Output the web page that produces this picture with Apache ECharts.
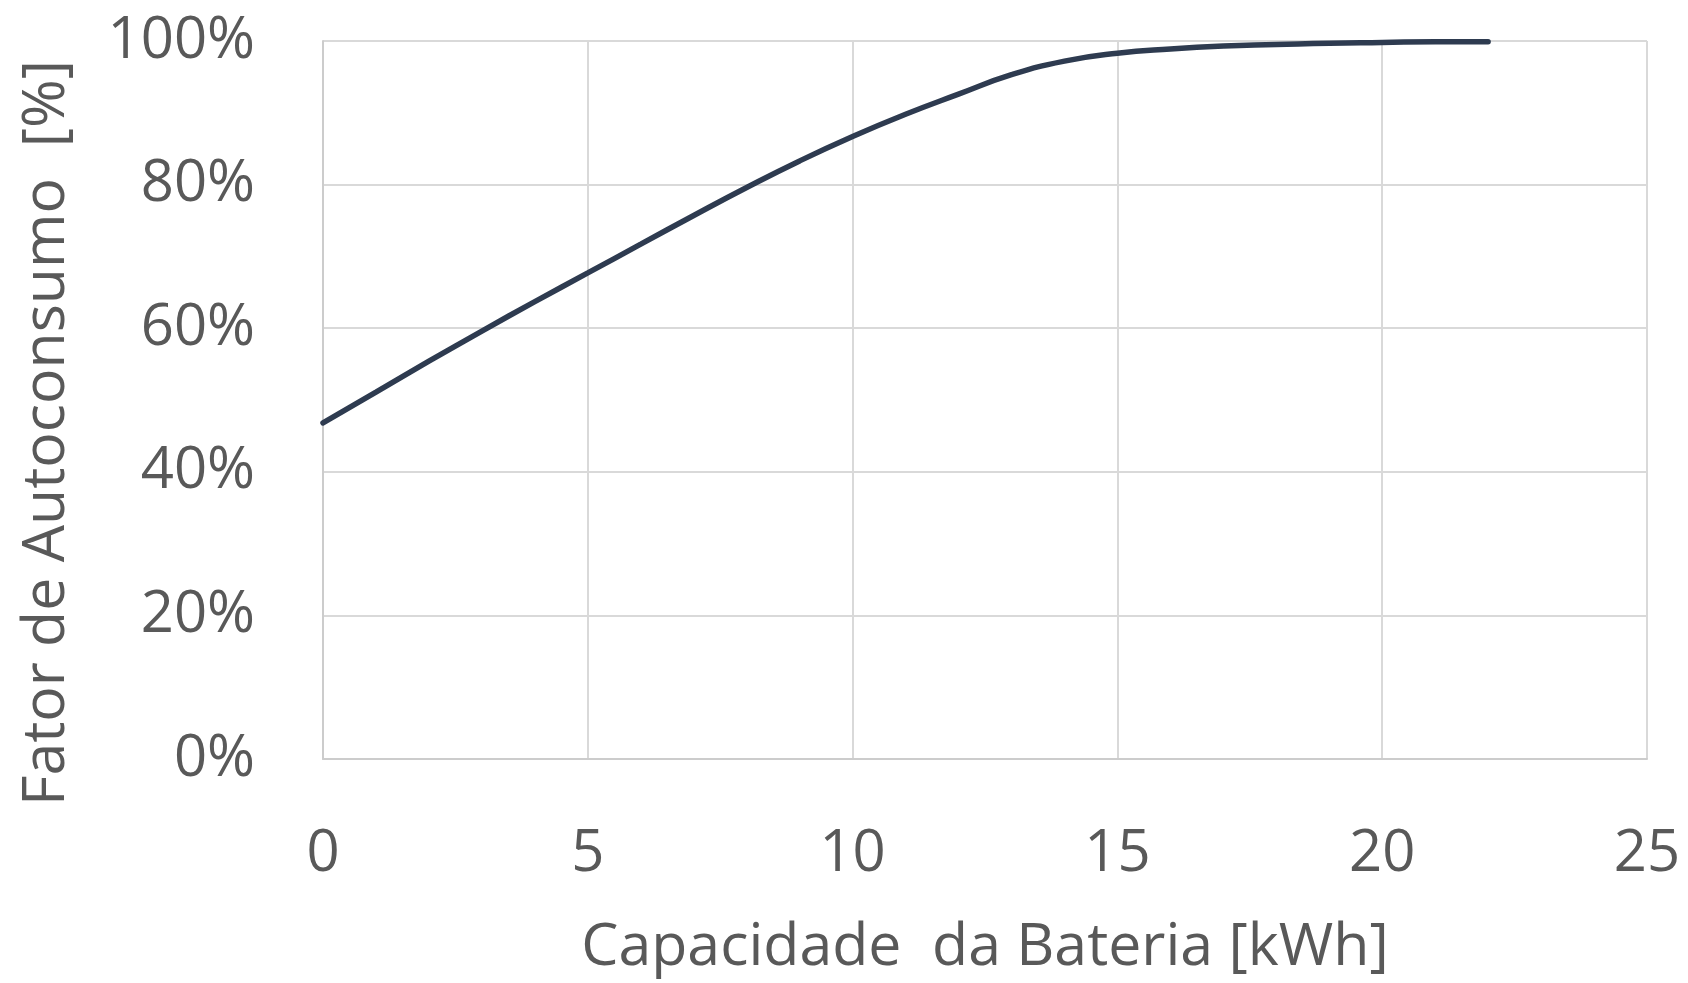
<!DOCTYPE html>
<html>
<head>
<meta charset="utf-8">
<script src="https://cdn.jsdelivr.net/npm/echarts@6/dist/echarts.min.js"></script>
<style>
html,body{margin:0;padding:0;background:#fff;}
#chart{width:1688px;height:983px;}
</style>
</head>
<body>
<div id="chart"></div>
<script>
const capacidade = [0,1,2,3,4,5,6,7,8,9,10,11,12,13,14,15,16,17,18,19,20,21,22];
const fator = [46.8,51.1,55.4,59.6,63.7,67.7,71.7,75.7,79.6,83.3,86.7,89.8,92.6,95.3,97.2,98.3,98.9,99.3,99.5,99.7,99.8,99.9,99.9];
const xTicks = {min:0, max:25, interval:5};
const yTicks = {min:0, max:100, interval:20};
const xName = 'Capacidade  da Bateria [kWh]';
const yName = 'Fator de Autoconsumo  [%]';

const FONT = '"Open Sans", "Noto Sans", sans-serif';
const TXT = '#595959';
const GRID = '#d9d9d9';

const chart = echarts.init(document.getElementById('chart'), null, {renderer:'canvas'});
chart.setOption({
  animation:false,
  backgroundColor:'#ffffff',
  grid:{left:323, top:41, right:41, bottom:223, containLabel:false},
  xAxis:{
    type:'value', min:xTicks.min, max:xTicks.max, interval:xTicks.interval,
    name:xName, nameLocation:'middle', nameGap:160,
    nameTextStyle:{fontFamily:FONT, fontSize:59, color:TXT},
    axisLine:{show:true, lineStyle:{color:'#cccccc', width:2}},
    axisTick:{show:false},
    axisLabel:{fontFamily:FONT, fontSize:58, color:TXT, margin:66},
    splitLine:{show:true, lineStyle:{color:GRID, width:2}}
  },
  yAxis:{
    type:'value', min:yTicks.min, max:yTicks.max, interval:yTicks.interval,
    name:yName, nameLocation:'middle', nameGap:246,
    nameTextStyle:{fontFamily:FONT, fontSize:59, color:TXT, padding:[0,66,0,0]},
    axisLine:{show:true, lineStyle:{color:'#cccccc', width:2}},
    axisTick:{show:false},
    axisLabel:{fontFamily:FONT, fontSize:58, color:TXT, margin:68, formatter:'{value}%'},
    splitLine:{show:true, lineStyle:{color:GRID, width:2}}
  },
  series:[{
    type:'line',
    data:capacidade.map((c,i)=>[c, fator[i]]),
    smooth:true,
    showSymbol:false,
    lineStyle:{color:'#2e3b50', width:5.5, cap:'round'},
    itemStyle:{color:'#2e3b50'}
  }]
});
</script>
</body>
</html>
